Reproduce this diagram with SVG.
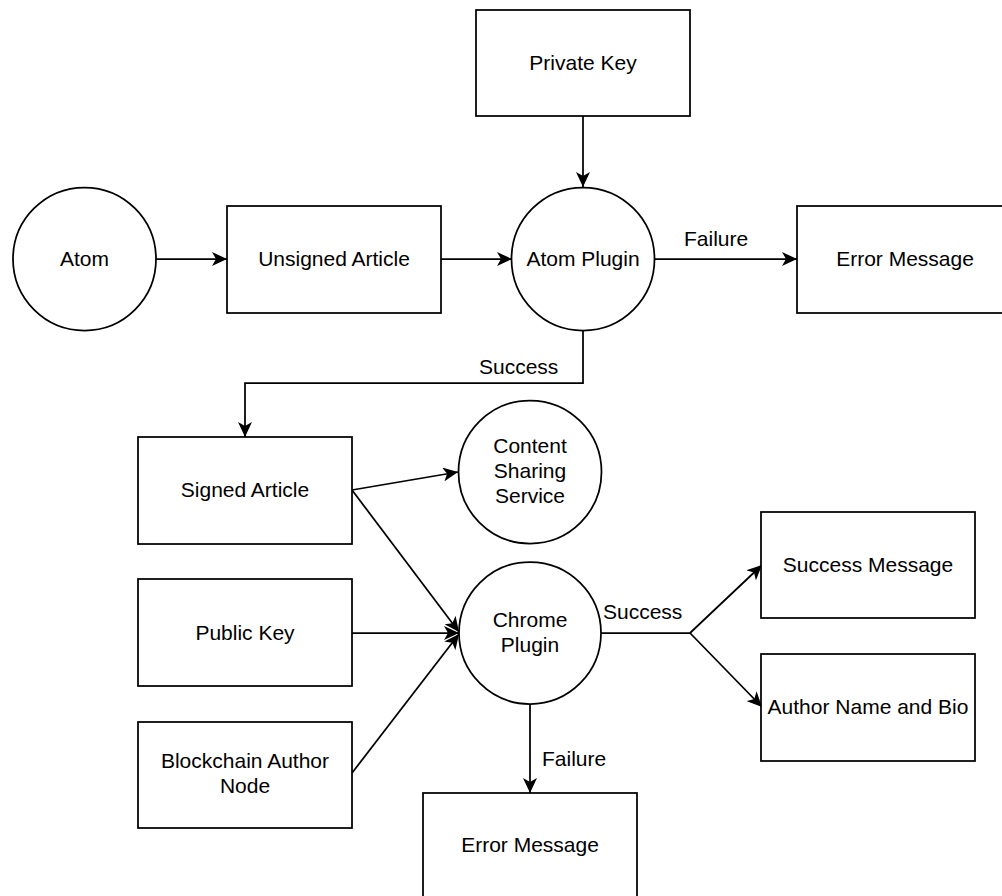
<svg xmlns="http://www.w3.org/2000/svg" width="1002" height="896" viewBox="0 0 1002 896">
<style>
.box{fill:#fff;stroke:#000;stroke-width:1.75}
.ln{fill:none;stroke:#000;stroke-width:1.75}
.arr{marker-end:url(#ah)}
text{font-family:"Liberation Sans",Arial,Helvetica,sans-serif;font-size:21px;fill:#000}
.c{text-anchor:middle}
</style>
<defs>
<marker id="ah" markerUnits="userSpaceOnUse" markerWidth="16" markerHeight="14" refX="15" refY="7" orient="auto">
<path d="M0,0 L15,7 L0,14 L4,7 Z" fill="#000"/>
</marker>
</defs>
<rect width="1002" height="896" fill="#fff"/>
<g id="connectors">
<path class="ln arr" d="M156,259 H227"/>
<path class="ln arr" d="M441,259 H512"/>
<path class="ln arr" d="M583,116 V187"/>
<path class="ln arr" d="M654,259 H797"/>
<path class="ln arr" d="M583,330 V383 H245 V437"/>
<path class="ln arr" d="M352,490 L458,472"/>
<path class="ln arr" d="M352,490 L459,632"/>
<path class="ln arr" d="M352,633 H459"/>
<path class="ln arr" d="M352,773 L459,634"/>
<path class="ln arr" d="M601,633 H690 L762,565"/>
<path class="ln arr" d="M690,633 L762,707"/>
<path class="ln arr" d="M530,704 V793"/>
<text x="684" y="246">Failure</text>
<text x="479" y="374">Success</text>
<text x="603" y="619">Success</text>
<text x="542" y="766">Failure</text>
</g>
<g id="atom"><circle class="box" cx="84.5" cy="259" r="71.5"/><text class="c" x="84.5" y="266">Atom</text></g>
<g id="unsigned-article"><rect class="box" x="227" y="206" width="214" height="107"/><text class="c" x="334" y="266">Unsigned Article</text></g>
<g id="private-key"><rect class="box" x="476" y="10" width="214" height="106"/><text class="c" x="583" y="70">Private Key</text></g>
<g id="atom-plugin"><circle class="box" cx="583" cy="259" r="71.5"/><text class="c" x="583" y="266">Atom Plugin</text></g>
<g id="error-message-1"><rect class="box" x="797" y="206" width="214" height="107"/><text class="c" x="905" y="266">Error Message</text></g>
<g id="signed-article"><rect class="box" x="138" y="437" width="214" height="107"/><text class="c" x="245" y="497">Signed Article</text></g>
<g id="content-sharing"><circle class="box" cx="530" cy="472" r="71.5"/><text class="c" x="530" y="453">Content</text><text class="c" x="530" y="478">Sharing</text><text class="c" x="530" y="503">Service</text></g>
<g id="public-key"><rect class="box" x="138" y="579" width="214" height="107"/><text class="c" x="245" y="640">Public Key</text></g>
<g id="chrome-plugin"><circle class="box" cx="530" cy="633" r="71"/><text class="c" x="530" y="627">Chrome</text><text class="c" x="530" y="652">Plugin</text></g>
<g id="blockchain-author"><rect class="box" x="138" y="722" width="214" height="106"/><text class="c" x="245" y="768">Blockchain Author</text><text class="c" x="245" y="793">Node</text></g>
<g id="success-message"><rect class="box" x="761" y="512" width="214" height="106"/><text class="c" x="868" y="572">Success Message</text></g>
<g id="author-name"><rect class="box" x="761" y="654" width="214" height="107"/><text class="c" x="868" y="714">Author Name and Bio</text></g>
<g id="error-message-2"><rect class="box" x="423" y="793" width="214" height="107"/><text class="c" x="530" y="852">Error Message</text></g>
</svg>
